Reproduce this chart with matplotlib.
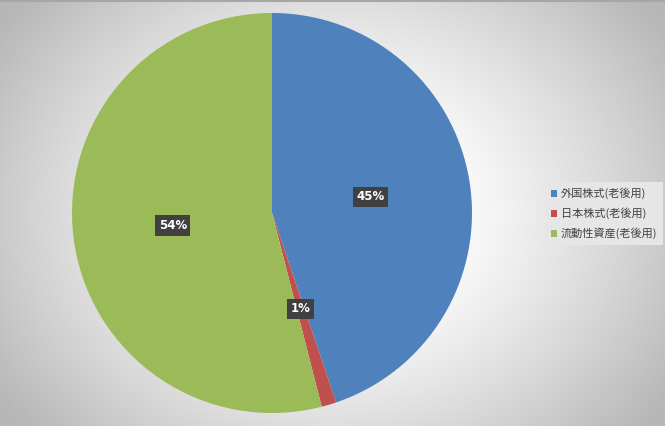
import numpy as np
import matplotlib.pyplot as plt

plt.rcParams['font.family'] = ['Noto Sans CJK JP', 'DejaVu Sans']

labels = ['外国株式(老後用)', '日本株式(老後用)', '流動性資産(老後用)']
values = [44.8, 1.2, 54.0]
colors = ['#4F81BD', '#C0504D', '#9BBB59']

fig = plt.figure(figsize=(6.65, 4.26), dpi=100)

# radial gradient background
bg = fig.add_axes([0, 0, 1, 1])
yy, xx = np.mgrid[0:426, 0:665]
r = np.sqrt(((xx - 332) / 400.0) ** 2 + ((yy - 213) / 330.0) ** 2)
g = np.clip(1.0 - 0.28 * np.clip((r - 0.25) / 0.75, 0, 1) ** 1.2, 0, 1)
bg.imshow(np.dstack([g, g, g]), aspect='auto', extent=[0, 665, 426, 0])
bg.plot([0, 665], [1, 1], color='#a6a6a6', lw=1.5)
bg.set_xlim(0, 665)
bg.set_ylim(426, 0)
bg.axis('off')

ax = fig.add_axes([72 / 665, 13 / 426, 400 / 665, 400 / 426])
wedges, texts, autotexts = ax.pie(
    values, colors=colors, startangle=90, counterclock=False,
    autopct=lambda p: '%d%%' % round(p), pctdistance=0.5,
    wedgeprops=dict(linewidth=0))
for t in autotexts:
    t.set_color('white')
    t.set_fontweight('bold')
    t.set_fontsize(8.5)
    t.set_family('DejaVu Sans')
    t.set_bbox(dict(boxstyle='square,pad=0.3', facecolor='#404040', edgecolor='none'))
ax.set_aspect('equal')
ax.set_xlim(-1, 1)
ax.set_ylim(-1, 1)

leg = fig.legend(wedges, labels, loc='upper left', bbox_to_anchor=(545 / 665, 1 - 182 / 426),
                 fontsize=8, frameon=True, fancybox=False, handlelength=0.6, handleheight=0.6,
                 handletextpad=0.3, labelspacing=0.75, borderpad=0.5, borderaxespad=0)
leg.get_frame().set_facecolor('#e6e6e6')
leg.get_frame().set_edgecolor('none')
leg.get_frame().set_alpha(1)
for t in leg.get_texts():
    t.set_color('#404040')

fig.savefig('out.png', dpi=100)
